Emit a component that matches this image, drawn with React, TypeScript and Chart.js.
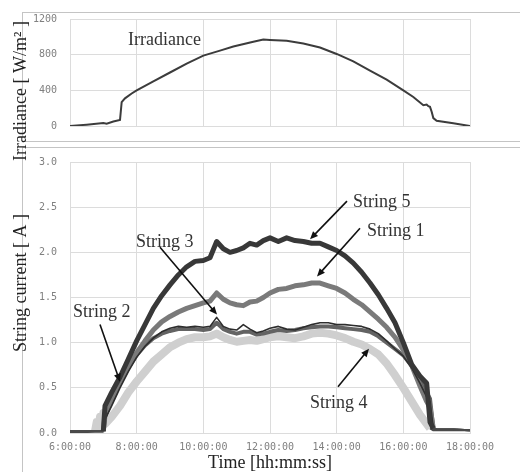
import { useEffect, useRef } from "react";
import { Chart, registerables } from "chart.js";

Chart.register(...registerables);

// ---------- data ----------
const irrHours = [6.0, 6.5, 7.0, 7.1, 7.3, 7.5, 7.55, 7.65, 7.85, 8.0, 8.5, 9.0, 9.5, 10.0, 10.5, 10.9, 11.5, 11.8, 12.0, 12.5, 13.0, 13.5, 14.0, 14.5, 15.0, 15.5, 16.0, 16.3, 16.6, 16.7, 16.75, 16.8, 16.85, 16.9, 17.0, 17.5, 18.0];
const irrValues = [0, 15, 33, 25, 50, 67, 267, 310, 365, 400, 500, 600, 700, 789, 845, 892, 945, 970, 965, 955, 926, 880, 808, 725, 622, 520, 400, 326, 233, 240, 222, 215, 160, 89, 59, 30, 0];

const hours = [6.0, 6.5, 6.75, 6.8, 6.85, 6.9, 6.95, 7.0, 7.05, 7.25, 7.5, 7.75, 8.0, 8.25, 8.5, 8.75, 9.0, 9.25, 9.5, 9.75, 10.0, 10.2, 10.4, 10.6, 10.8, 11.0, 11.2, 11.4, 11.6, 11.8, 12.0, 12.25, 12.5, 12.75, 13.0, 13.25, 13.5, 13.75, 14.0, 14.25, 14.5, 14.75, 15.0, 15.25, 15.5, 15.75, 16.0, 16.25, 16.5, 16.7, 16.8, 16.9, 17.0, 17.5, 18.0];
const string1 = [0.02, 0.02, 0.02, 0.02, 0.02, 0.02, 0.02, 0.02, 0.2, 0.38, 0.57, 0.74, 0.89, 1.02, 1.14, 1.23, 1.29, 1.34, 1.38, 1.41, 1.44, 1.46, 1.55, 1.48, 1.44, 1.42, 1.41, 1.45, 1.46, 1.5, 1.55, 1.59, 1.6, 1.63, 1.64, 1.66, 1.66, 1.63, 1.6, 1.55, 1.48, 1.42, 1.34, 1.26, 1.17, 1.06, 0.92, 0.75, 0.52, 0.35, 0.28, 0.05, 0.04, 0.04, 0.03];
const string2 = [0.02, 0.02, 0.02, 0.02, 0.02, 0.02, 0.02, 0.02, 0.18, 0.35, 0.55, 0.72, 0.86, 0.97, 1.05, 1.1, 1.13, 1.15, 1.15, 1.15, 1.14, 1.15, 1.22, 1.15, 1.12, 1.1, 1.12, 1.12, 1.09, 1.1, 1.12, 1.14, 1.13, 1.14, 1.16, 1.17, 1.18, 1.18, 1.17, 1.16, 1.15, 1.14, 1.12, 1.07, 1.0, 0.93, 0.86, 0.74, 0.6, 0.45, 0.38, 0.05, 0.04, 0.04, 0.03];
const string3 = [0.02, 0.02, 0.02, 0.02, 0.02, 0.02, 0.02, 0.02, 0.15, 0.3, 0.5, 0.68, 0.84, 0.96, 1.05, 1.12, 1.16, 1.18, 1.17, 1.18, 1.17, 1.18, 1.28, 1.18, 1.15, 1.14, 1.2, 1.15, 1.11, 1.13, 1.16, 1.18, 1.15, 1.14, 1.17, 1.2, 1.22, 1.22, 1.2, 1.2, 1.19, 1.18, 1.15, 1.1, 1.02, 0.93, 0.85, 0.72, 0.55, 0.4, 0.35, 0.05, 0.04, 0.04, 0.03];
const string4 = [0.01, 0.01, 0.02, 0.12, 0.03, 0.18, 0.04, 0.22, 0.1, 0.18, 0.3, 0.45, 0.57, 0.68, 0.79, 0.87, 0.95, 1.0, 1.04, 1.06, 1.06, 1.07, 1.1, 1.06, 1.03, 1.01, 1.02, 1.03, 1.02, 1.04, 1.06, 1.07, 1.06, 1.05, 1.07, 1.1, 1.11, 1.1, 1.08, 1.05, 1.01, 0.98, 0.93, 0.87, 0.77, 0.64, 0.5, 0.35, 0.2, 0.1, 0.05, 0.03, 0.03, 0.03, 0.03];
const string5 = [0.02, 0.02, 0.02, 0.02, 0.02, 0.02, 0.02, 0.02, 0.3, 0.45, 0.62, 0.82, 1.02, 1.2, 1.38, 1.52, 1.64, 1.75, 1.84, 1.9, 1.91, 1.94, 2.12, 2.04, 2.0, 2.02, 2.05, 2.1, 2.08, 2.13, 2.16, 2.12, 2.16, 2.13, 2.12, 2.1, 2.1, 2.06, 2.02, 1.96, 1.88, 1.78, 1.66, 1.53, 1.38, 1.22, 1.0, 0.76, 0.63, 0.55, 0.12, 0.05, 0.04, 0.04, 0.03];

const timeTickValues = [6, 8, 10, 12, 14, 16, 18];
const timeTickLabels = ["6:00:00", "8:00:00", "10:00:00", "12:00:00", "14:00:00", "16:00:00", "18:00:00"];
const irrTickValues = [0, 400, 800, 1200];
const irrTickLabels = ["0", "400", "800", "1200"];
const currentTickValues = [0, 0.5, 1.0, 1.5, 2.0, 2.5, 3.0];
const currentTickLabels = ["0.0", "0.5", "1.0", "1.5", "2.0", "2.5", "3.0"];

const seriesNames = ["String 1", "String 2", "String 3", "String 4", "String 5"];

// ---------- styling helpers ----------
const SERIF = '"Liberation Serif", "Times New Roman", serif';
const MONO = '"DejaVu Sans Mono", monospace';
const GRID = "#dcdcdc";
const TICK = "#808080";

type Note = { text: string; x: number; y: number; arrow?: [number, number, number, number] };
type SideTitle = { text: string; px: number; py: number };

function makeOverlay(notes: Note[], titles: SideTitle[]) {
  return {
    id: "overlay",
    afterDatasetsDraw(chart: any) {
      const ctx: CanvasRenderingContext2D = chart.ctx;
      const xs = chart.scales.x;
      const ys = chart.scales.y;
      ctx.save();
      ctx.font = `18px ${SERIF}`;
      for (const n of notes) {
        ctx.fillStyle = "#333333";
        ctx.textAlign = "left";
        ctx.textBaseline = "middle";
        ctx.fillText(n.text, xs.getPixelForValue(n.x), ys.getPixelForValue(n.y));
        if (n.arrow) {
          const fx = xs.getPixelForValue(n.arrow[0]);
          const fy = ys.getPixelForValue(n.arrow[1]);
          const tx = xs.getPixelForValue(n.arrow[2]);
          const ty = ys.getPixelForValue(n.arrow[3]);
          const ang = Math.atan2(ty - fy, tx - fx);
          const L = 8, W = 3.5;
          ctx.strokeStyle = "#111111";
          ctx.lineWidth = 1.6;
          ctx.beginPath();
          ctx.moveTo(fx, fy);
          ctx.lineTo(tx - Math.cos(ang) * L * 0.6, ty - Math.sin(ang) * L * 0.6);
          ctx.stroke();
          ctx.fillStyle = "#111111";
          ctx.beginPath();
          ctx.moveTo(tx, ty);
          ctx.lineTo(tx - Math.cos(ang) * L - Math.sin(ang) * W, ty - Math.sin(ang) * L + Math.cos(ang) * W);
          ctx.lineTo(tx - Math.cos(ang) * L + Math.sin(ang) * W, ty - Math.sin(ang) * L - Math.cos(ang) * W);
          ctx.closePath();
          ctx.fill();
        }
      }
      for (const t of titles) {
        ctx.save();
        ctx.translate(t.px, t.py);
        ctx.rotate(-Math.PI / 2);
        ctx.fillStyle = "#222222";
        ctx.textAlign = "center";
        ctx.textBaseline = "alphabetic";
        ctx.fillText(t.text, 0, 0);
        ctx.restore();
      }
      ctx.restore();
    },
  };
}

function xScale(showTicks: boolean, title: boolean) {
  return {
    type: "linear",
    min: 6,
    max: 18,
    afterBuildTicks: (s: any) => {
      s.ticks = timeTickValues.map((v) => ({ value: v }));
    },
    afterFit: (s: any) => {
      s.height = showTicks ? 39 : 0;
    },
    grid: { color: GRID, lineWidth: 1, drawTicks: false },
    border: { color: GRID },
    ticks: {
      display: showTicks,
      padding: 8,
      maxRotation: 0,
      autoSkip: false,
      color: TICK,
      font: { family: MONO, size: 10 },
      callback: (_v: any, i: number) => timeTickLabels[i],
    },
    title: {
      display: title,
      text: "Time [hh:mm:ss]",
      color: "#222222",
      font: { family: SERIF, size: 18, lineHeight: 1.0 },
      padding: { top: 0, bottom: 0 },
    },
  };
}

export default function App() {
  const topRef = useRef<HTMLCanvasElement | null>(null);
  const botRef = useRef<HTMLCanvasElement | null>(null);

  useEffect(() => {
    const top = new Chart(topRef.current as HTMLCanvasElement, {
      type: "line",
      data: {
        datasets: [
          {
            label: "Irradiance",
            data: irrHours.map((h, i) => ({ x: h, y: irrValues[i] })),
            borderColor: "#3c3c3c",
            borderWidth: 2,
            pointRadius: 0,
            tension: 0,
          },
        ],
      },
      options: {
        animation: false,
        responsive: false,
        layout: { padding: { left: 0, right: 50, top: 17, bottom: 346 } },
        plugins: { legend: { display: false }, tooltip: { enabled: false } },
        scales: {
          x: xScale(false, false) as any,
          y: {
            min: 0,
            max: 1200,
            afterBuildTicks: (s: any) => {
              s.ticks = irrTickValues.map((v) => ({ value: v }));
            },
            afterFit: (s: any) => {
              s.width = 70;
            },
            grid: { color: GRID, lineWidth: 1, drawTicks: false },
            border: { color: GRID },
            ticks: {
              padding: 13,
              color: TICK,
              font: { family: MONO, size: 10 },
              callback: (_v: any, i: number) => irrTickLabels[i],
            },
          },
        },
      },
      plugins: [
        makeOverlay(
          [{ text: "Irradiance", x: 7.74, y: 967 }],
          [{ text: "Irradiance [ W/m\u00B2 ]", px: 26, py: 91 }]
        ),
      ],
    } as any);

    const colors = ["#7a7a7a", "#636363", "#2e2e2e", "#cfcfcf", "#383838"];
    const widths = [5, 4, 1.6, 8, 5];
    const orders = [2, 3, 1, 4, 0];
    const values = [string1, string2, string3, string4, string5];

    const bot = new Chart(botRef.current as HTMLCanvasElement, {
      type: "line",
      data: {
        datasets: values.map((vals, k) => ({
          label: seriesNames[k],
          data: hours.map((h, i) => ({ x: h, y: vals[i] })),
          borderColor: colors[k],
          borderWidth: widths[k],
          pointRadius: 0,
          tension: 0,
          borderJoinStyle: "round",
          order: orders[k],
          segment: {
            borderWidth: (c: any) =>
              c.p0.parsed.y < 0.06 && c.p1.parsed.y < 0.06 ? 2 : widths[k],
            borderColor: (c: any) =>
              c.p0.parsed.y < 0.06 && c.p1.parsed.y < 0.06 ? "#4a4a4a" : colors[k],
          },
        })),
      },
      options: {
        animation: false,
        responsive: false,
        layout: { padding: { left: 0, right: 50, top: 162, bottom: 0 } },
        plugins: { legend: { display: false }, tooltip: { enabled: false } },
        scales: {
          x: xScale(true, true) as any,
          y: {
            min: 0,
            max: 3,
            afterBuildTicks: (s: any) => {
              s.ticks = currentTickValues.map((v) => ({ value: v }));
            },
            afterFit: (s: any) => {
              s.width = 70;
            },
            grid: { color: GRID, lineWidth: 1, drawTicks: false },
            border: { color: GRID },
            ticks: {
              padding: 13,
              color: TICK,
              font: { family: MONO, size: 10 },
              callback: (_v: any, i: number) => currentTickLabels[i],
            },
          },
        },
      },
      plugins: [
        makeOverlay(
          [
            { text: "String 5", x: 14.49, y: 2.556, arrow: [14.31, 2.567, 13.2, 2.144] },
            { text: "String 1", x: 14.91, y: 2.233, arrow: [14.7, 2.267, 13.41, 1.733] },
            { text: "String 3", x: 7.98, y: 2.11, arrow: [8.7, 2.056, 10.41, 1.311] },
            { text: "String 2", x: 6.09, y: 1.333, arrow: [6.9, 1.2, 7.5, 0.567] },
            { text: "String 4", x: 13.2, y: 0.333, arrow: [14.04, 0.511, 14.97, 0.933] },
          ],
          [{ text: "String current [ A ]", px: 26, py: 283 }]
        ),
      ],
    } as any);

    return () => {
      top.destroy();
      bot.destroy();
    };
  }, []);

  const frame = "1px solid #c4c4c4";
  return (
    <div style={{ position: "fixed", left: 0, top: 0, width: 520, height: 472, background: "#ffffff", overflow: "hidden" }}>
      <div style={{ position: "absolute", left: 22, top: 12, width: 520, height: 128, borderTop: frame, borderLeft: frame, borderBottom: frame }} />
      <div style={{ position: "absolute", left: 22, top: 147, width: 520, height: 340, borderTop: frame, borderLeft: frame }} />
      <canvas ref={botRef} width={520} height={472} style={{ position: "absolute", left: 0, top: 0, width: 520, height: 472 }} />
      <canvas ref={topRef} width={520} height={472} style={{ position: "absolute", left: 0, top: 0, width: 520, height: 472 }} />
    </div>
  );
}
